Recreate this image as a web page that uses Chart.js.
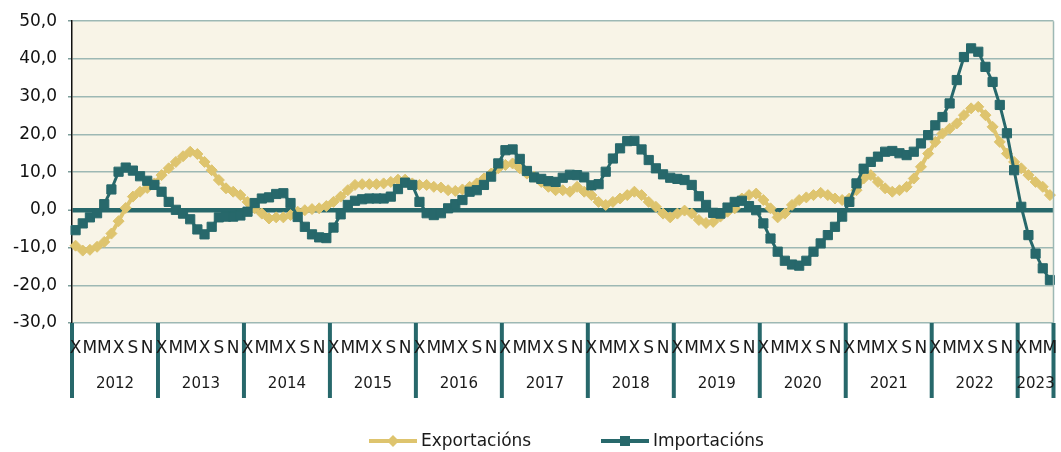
<!DOCTYPE html>
<html>
<head>
<meta charset="utf-8">
<title>Exportacións e importacións</title>
<script src="https://cdn.jsdelivr.net/npm/chart.js@4.4.0/dist/chart.umd.min.js"></script>
<style>
  html, body { margin: 0; padding: 0; background: #fff; }
  #wrap { width: 1061px; height: 452px; }
</style>
</head>
<body>
<div id="wrap"><canvas id="myChart" width="1061" height="452"></canvas></div>
<script>
// Monthly rate of change (%), January 2012 - May 2023

const years = [2012, 2013, 2014, 2015, 2016, 2017, 2018, 2019, 2020, 2021, 2022, 2023];
const monthsPerYear = [12, 12, 12, 12, 12, 12, 12, 12, 12, 12, 12, 5];
const monthLetters = ['X', 'F', 'M', 'A', 'M', 'X', 'X', 'A', 'S', 'O', 'N', 'D'];
const yTicks = [-30, -20, -10, 0, 10, 20, 30, 40, 50];

const exportacions = [
    -9.5, -10.8, -10.6, -9.8, -8.5, -6.3, -3.0, 0.5, 3.5, 4.8, 5.8, 7.0,   // 2012
    9.2, 11.0, 12.7, 14.2, 15.4, 14.8, 12.7, 10.5, 7.9, 5.7, 4.8, 3.9,     // 2013
    2.1, 0.4, -1.0, -2.3, -2.0, -2.0, -1.4, -0.5, -0.1, 0.2, 0.4, 1.0,     // 2014
    2.1, 3.5, 5.2, 6.6, 6.8, 6.8, 6.8, 7.0, 7.4, 8.0, 8.0, 7.0,            // 2015
    6.6, 6.6, 6.1, 5.9, 5.2, 5.0, 5.4, 6.1, 7.0, 8.3, 9.6, 11.0,           // 2016
    11.9, 12.3, 11.0, 9.6, 8.8, 7.4, 6.1, 5.2, 5.2, 4.8, 6.1, 4.8,         // 2017
    3.9, 2.1, 1.3, 2.1, 3.0, 3.9, 4.8, 3.9, 2.1, 0.8, -1.0, -2.0,          // 2018
    -1.0, -0.2, -1.0, -2.7, -3.5, -3.2, -1.8, -0.5, 0.4, 3.0, 3.9, 4.3,    // 2019
    2.6, 0.4, -2.0, -1.0, 1.3, 2.6, 3.3, 3.9, 4.5, 3.9, 3.0, 2.6,          // 2020
    3.0, 5.2, 8.3, 9.2, 7.4, 5.7, 4.8, 5.2, 6.1, 8.3, 11.4, 14.9,          // 2021
    18.0, 20.2, 21.5, 22.9, 25.1, 26.9, 27.3, 25.1, 22.0, 18.0, 14.9, 12.7, // 2022
    11.0, 9.2, 7.4, 6.1, 3.9                                               // 2023
];

const importacions = [
    -5.4, -3.6, -2.0, -0.9, 1.5, 5.4, 10.1, 11.2, 10.4, 8.9, 7.7, 6.6,     // 2012
    4.8, 2.1, 0.0, -1.0, -2.5, -5.2, -6.5, -4.5, -2.0, -1.8, -1.8, -1.5,   // 2013
    -0.5, 1.8, 3.0, 3.3, 4.2, 4.4, 1.8, -1.9, -4.5, -6.5, -7.3, -7.5,      // 2014
    -4.7, -1.2, 1.3, 2.4, 2.8, 3.0, 3.0, 3.0, 3.5, 5.5, 7.2, 6.6,          // 2015
    2.1, -0.9, -1.4, -0.9, 0.4, 1.5, 2.6, 4.8, 5.2, 6.6, 8.8, 12.3,        // 2016
    15.8, 16.0, 13.5, 10.3, 8.6, 8.2, 7.6, 7.4, 8.5, 9.3, 9.2, 8.6,        // 2017
    6.5, 6.8, 10.1, 13.6, 16.3, 18.2, 18.3, 16.0, 13.2, 11.0, 9.4, 8.5,    // 2018
    8.2, 7.9, 6.6, 3.6, 1.3, -0.8, -1.0, 0.6, 2.1, 2.4, 1.0, -0.1,         // 2019
    -3.6, -7.6, -11.1, -13.5, -14.5, -14.8, -13.5, -11.1, -8.9, -6.7, -4.5, -1.8, // 2020
    2.1, 7.0, 10.9, 12.7, 14.1, 15.4, 15.6, 15.0, 14.5, 15.4, 17.6, 19.8,  // 2021
    22.4, 24.6, 28.2, 34.4, 40.5, 42.8, 41.9, 37.9, 33.9, 27.8, 20.3, 10.5, // 2022
    0.8, -6.7, -11.6, -15.5, -18.6                                         // 2023
];

const gold = '#DEC46E';
const teal = '#27686B';
const gridColor = '#9DB8B4';
const font = '"DejaVu Sans", sans-serif';

const labels = [];
years.forEach((y, k) => {
    for (let m = 0; m < monthsPerYear[k]; m++) labels.push(monthLetters[m] + ' ' + y);
});

// plot background, two-level category axis and legend
const frame = {
    id: 'frame',
    beforeDraw(chart) {
        const { ctx, chartArea: a } = chart;
        ctx.save();
        ctx.fillStyle = '#F8F4E7';
        ctx.fillRect(a.left, a.top, a.right - a.left, a.bottom - a.top);
        ctx.restore();
    },
    afterDraw(chart) {
        const { ctx, chartArea: a } = chart;
        const x = chart.scales.x;
        const half = (x.getPixelForValue(1) - x.getPixelForValue(0)) / 2;
        ctx.save();

        // right border
        ctx.strokeStyle = gridColor;
        ctx.lineWidth = 1.5;
        ctx.beginPath();
        ctx.moveTo(a.right, a.top);
        ctx.lineTo(a.right, a.bottom);
        ctx.stroke();

        // year separators
        const bounds = [];
        let start = 0;
        years.forEach((y, k) => {
            bounds.push(x.getPixelForValue(start) - half);
            start += monthsPerYear[k];
        });
        bounds.push(x.getPixelForValue(start - 1) + half);
        ctx.strokeStyle = teal;
        ctx.lineWidth = 4;
        bounds.forEach(b => {
            ctx.beginPath();
            ctx.moveTo(b, a.bottom);
            ctx.lineTo(b, 398);
            ctx.stroke();
        });

        ctx.fillStyle = '#1a1a1a';
        ctx.textAlign = 'center';
        ctx.textBaseline = 'middle';

        // month letters, every second month
        ctx.font = '17px ' + font;
        labels.forEach((l, i) => {
            if (i % 2 === 0) ctx.fillText(l.split(' ')[0], x.getPixelForValue(i), 349);
        });

        // years
        ctx.font = '15px ' + font;
        years.forEach((y, k) => {
            ctx.fillText(String(y), (bounds[k] + bounds[k + 1]) / 2, 384);
        });

        // legend
        const items = [
            { text: chart.data.datasets[0].label, color: gold, diamond: true, left: 369 },
            { text: chart.data.datasets[1].label, color: teal, diamond: false, left: 601 }
        ];
        const ly = 441;
        ctx.font = '17px ' + font;
        ctx.textAlign = 'left';
        items.forEach(it => {
            ctx.strokeStyle = it.color;
            ctx.fillStyle = it.color;
            ctx.lineWidth = 4;
            ctx.beginPath();
            ctx.moveTo(it.left, ly);
            ctx.lineTo(it.left + 48, ly);
            ctx.stroke();
            const cx = it.left + 24;
            ctx.beginPath();
            if (it.diamond) {
                ctx.moveTo(cx, ly - 6);
                ctx.lineTo(cx + 6, ly);
                ctx.lineTo(cx, ly + 6);
                ctx.lineTo(cx - 6, ly);
                ctx.closePath();
            } else {
                ctx.rect(cx - 5, ly - 5, 10, 10);
            }
            ctx.fill();
            ctx.fillStyle = '#1a1a1a';
            ctx.fillText(it.text, it.left + 52, ly + 1);
        });

        ctx.restore();
    }
};

const chartCtx = document.getElementById('myChart');

new Chart(chartCtx, {
    type: 'line',
    data: {
        labels: labels,
        datasets: [
            {
                label: 'Exportacións',
                data: exportacions,
                borderColor: gold,
                backgroundColor: gold,
                borderWidth: 4,
                pointStyle: 'rectRot',
                pointRadius: 5.5,
                pointBorderWidth: 1,
                pointBackgroundColor: gold,
                pointBorderColor: gold,
                tension: 0,
                order: 2
            },
            {
                label: 'Importacións',
                data: importacions,
                borderColor: teal,
                backgroundColor: teal,
                borderWidth: 3,
                pointStyle: 'rect',
                pointRadius: 6.5,
                pointBorderWidth: 1,
                pointBackgroundColor: teal,
                pointBorderColor: teal,
                tension: 0,
                order: 1
            }
        ]
    },
    options: {
        responsive: false,
        animation: false,
        devicePixelRatio: 1,
        layout: { padding: { top: 21, right: 2, left: 0, bottom: 0 } },
        plugins: {
            legend: { display: false },
            tooltip: { enabled: false }
        },
        scales: {
            x: {
                offset: true,
                grid: { display: false },
                border: { display: false },
                ticks: { display: false },
                afterFit: s => { s.height = 129; }
            },
            y: {
                min: -30,
                max: 50,
                afterBuildTicks: s => { s.ticks = yTicks.map(v => ({ value: v })); },
                ticks: {
                    color: '#111',
                    padding: 11,
                    font: { family: 'DejaVu Sans', size: 17 },
                    callback: v => v.toFixed(1).replace('.', ',')
                },
                grid: {
                    color: c => c.tick && c.tick.value === 0 ? teal : gridColor,
                    lineWidth: c => c.tick && c.tick.value === 0 ? 4.5 : 1.5,
                    tickLength: 4,
                    tickColor: '#7D9D9A',
                    tickWidth: 1.5
                },
                border: { color: '#111', width: 1.5 },
                afterFit: s => { s.width = 72; }
            }
        }
    },
    plugins: [frame]
});
</script>
</body>
</html>
